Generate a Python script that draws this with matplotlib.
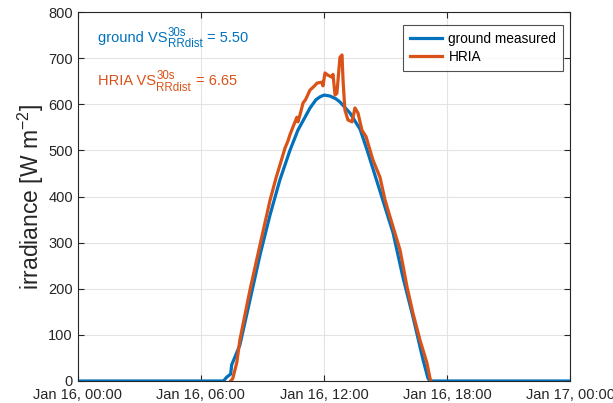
import numpy as np
import pandas as pd
import matplotlib
matplotlib.use('Agg')
import matplotlib.pyplot as plt
import matplotlib.dates as mdates
from matplotlib.transforms import IdentityTransform

plt.rcParams['font.family'] = ['Liberation Sans', 'DejaVu Sans']
plt.rcParams['mathtext.fontset'] = 'custom'
plt.rcParams['mathtext.rm'] = 'Liberation Sans'
plt.rcParams['mathtext.it'] = 'Liberation Sans'

# hours after Jan 16 00:00 and irradiance (W m-2)
ground_h = [0, 7.10, 7.25, 7.45, 7.50, 7.90, 8.39, 8.88, 9.37, 9.85, 10.34,
            10.73, 11.32, 11.61, 11.80, 12.00, 12.29, 12.58, 12.78, 13.27,
            13.76, 14.10, 14.73, 15.37, 15.85, 16.34, 16.83, 17.07, 17.17, 24]
ground_v = [0, 0, 8, 15, 35, 78, 175, 273, 360, 436, 500,
            544, 592, 610, 616, 620, 618, 612, 605, 581,
            546, 501, 412, 321, 225, 139, 46, 6, 0, 0]

# HRIA only has values during daytime
hria_h = [7.45, 7.55, 7.75, 7.90, 8.39, 8.88, 9.37, 9.66, 9.85, 10.10,
          10.24, 10.35, 10.49, 10.68, 10.73, 10.83, 10.98, 11.10, 11.32,
          11.54, 11.66, 11.90, 11.95, 12.05, 12.20, 12.39, 12.44, 12.54,
          12.63, 12.78, 12.88, 12.93, 13.02, 13.17, 13.37, 13.51, 13.66,
          13.85, 14.05, 14.39, 14.73, 14.98, 15.37, 15.71, 16.05, 16.34,
          16.68, 17.02, 17.17, 17.22]
hria_v = [0, 5, 40, 89, 197, 295, 392, 440, 468, 505,
          520, 535, 551, 572, 562, 577, 603, 610, 631,
          640, 646, 648, 640, 668, 663, 659, 665, 620,
          624, 702, 707, 652, 588, 566, 562, 592, 581,
          544, 530, 479, 442, 392, 334, 284, 204, 147,
          89, 39, 6, 0]

vs_names = ['ground', 'HRIA']
vs_values = [5.50, 6.65]

day0 = pd.Timestamp('2019-01-16')
t_ground = day0 + pd.to_timedelta(ground_h, unit='h')
t_hria = day0 + pd.to_timedelta(hria_h, unit='h')

blue = '#0072BD'
orange = '#D95319'
axcol = '#262626'

fig = plt.figure(figsize=(6.13, 4.03), dpi=100)
ax = fig.add_axes([0.127, 0.0546, 0.803, 0.9154])

ax.plot(t_ground, ground_v, color=blue, lw=2.3, label='ground measured')
ax.plot(t_hria, hria_v, color=orange, lw=2.3, label='HRIA')

ax.set_xlim(day0, day0 + pd.Timedelta(hours=24))
ax.set_ylim(0, 800)
ax.xaxis.set_major_locator(mdates.HourLocator(byhour=[0, 6, 12, 18]))
ax.xaxis.set_major_formatter(mdates.DateFormatter('%b %d, %H:%M'))
ax.set_yticks(np.arange(0, 801, 100))
ax.grid(True, color='#e3e3e3', lw=0.8)
ax.set_axisbelow(True)
for s in ax.spines.values():
    s.set_color(axcol)
    s.set_linewidth(0.8)
ax.tick_params(colors=axcol, labelsize=10.5, direction='in', length=4, width=0.8,
               top=True, right=True)
ax.tick_params(axis='x', pad=5)

ax.set_ylabel('irradiance [W m$^{-2}$]', fontsize=16.5, color=axcol, labelpad=2)

leg = ax.legend(loc='upper right', bbox_to_anchor=(0.986, 0.965), fontsize=9.9,
                frameon=True, fancybox=False, handlelength=2.3,
                borderpad=0.5, labelspacing=0.3, handletextpad=0.5,
                borderaxespad=0)
leg.get_frame().set_edgecolor(axcol)
leg.get_frame().set_linewidth(0.8)

# VS labels with full-size-ish super/subscripts, placed in pixels
renderer = fig.canvas.get_renderer()
H = fig.bbox.height
for name, val, col, ybase in zip(vs_names, vs_values, [blue, orange], [41.7, 85]):
    y = H - ybase
    t1 = fig.text(97.7, y, name + ' VS', color=col, fontsize=10.5,
                  va='baseline', transform=IdentityTransform())
    x1 = t1.get_window_extent(renderer).x1 + 0.5
    t2 = fig.text(x1, y + 6, '30s', color=col, fontsize=8.3,
                  va='baseline', transform=IdentityTransform())
    t3 = fig.text(x1, y - 5.6, 'RRdist', color=col, fontsize=8.3,
                  va='baseline', transform=IdentityTransform())
    x2 = max(t2.get_window_extent(renderer).x1, t3.get_window_extent(renderer).x1)
    fig.text(x2 + 5, y, '= %.2f' % val, color=col, fontsize=10.5,
             va='baseline', transform=IdentityTransform())

fig.savefig('out.png', dpi=100)
